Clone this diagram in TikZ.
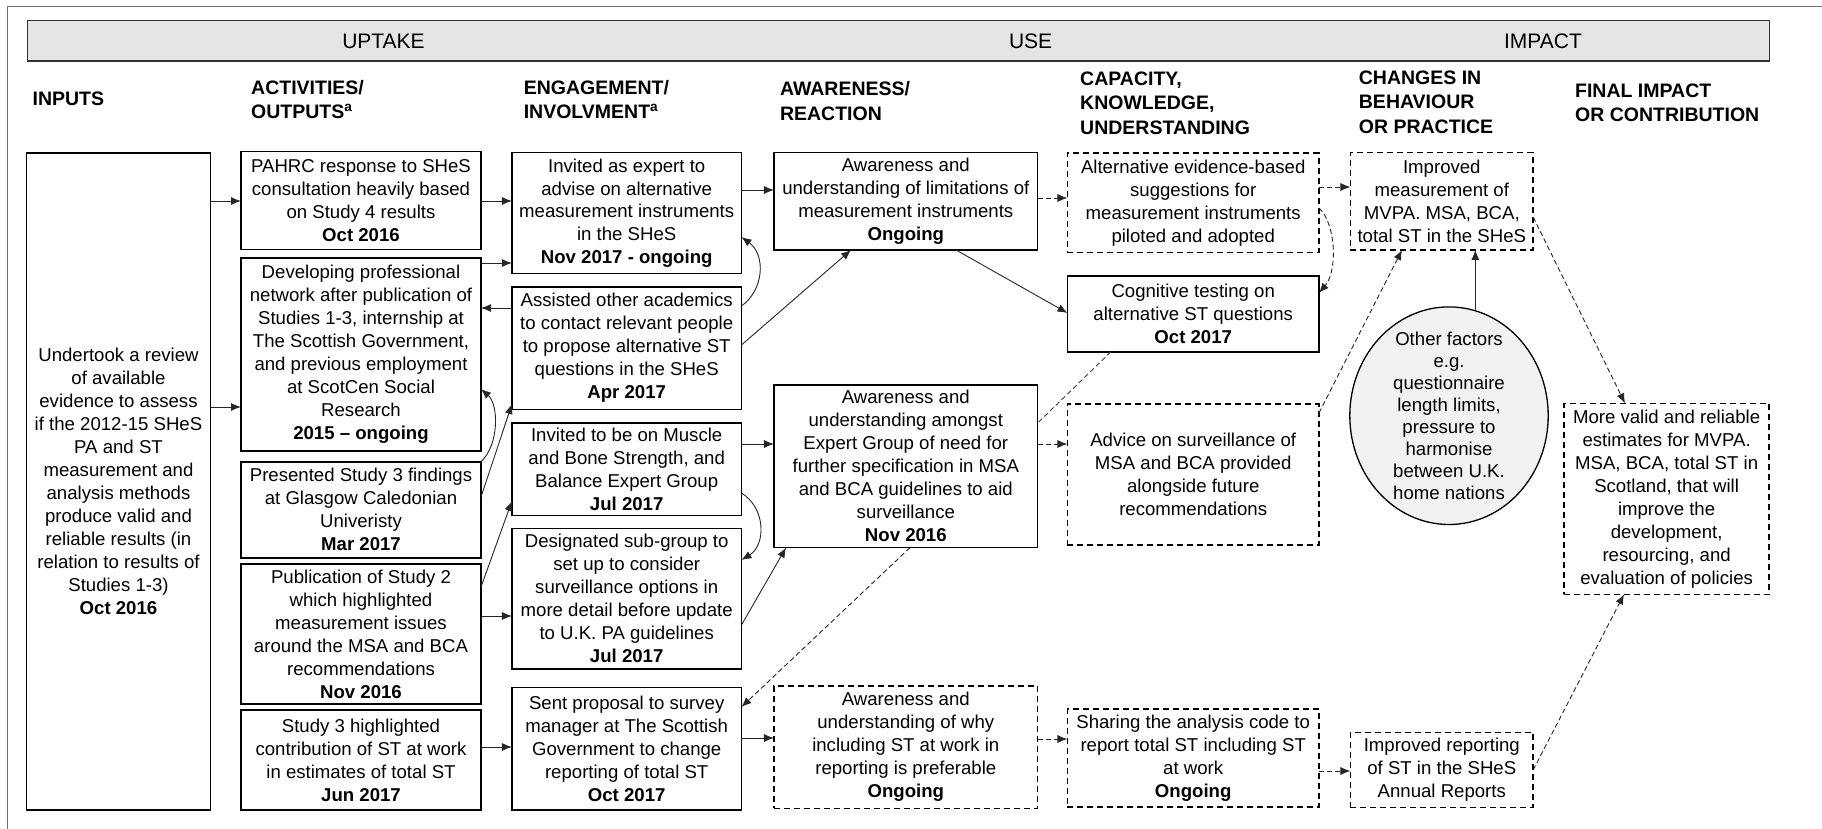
\documentclass[tikz,border=0pt]{standalone}
\usepackage{fontspec}
\setmainfont{Liberation Sans}
\usetikzlibrary{arrows.meta,shapes.geometric}

\newcommand{\bodytext}{\fontsize{18.6pt}{23pt}\selectfont}
\newcommand{\headtext}{\fontsize{19.5pt}{24.5pt}\selectfont\bfseries}

\begin{document}
\begin{tikzpicture}[x=1pt,y=-1pt,
  box/.style={draw=black, line width=1.6pt, inner sep=0pt, outer sep=0pt, align=center, font=\bodytext},
  dbox/.style={box, dash pattern=on 6pt off 4pt},
  head/.style={anchor=west, align=left, inner sep=0pt, font=\headtext},
  band/.style={font=\fontsize{21pt}{25pt}\selectfont, inner sep=0pt},
  conn/.style={draw=black!85, line width=0.9pt, -{Latex[length=10pt,width=8pt]}},
  dconn/.style={conn, dash pattern=on 5pt off 3pt},
  dline/.style={draw=black!75, line width=0.9pt, dash pattern=on 5pt off 3pt},
]
\useasboundingbox (0,0) rectangle (1822,829);

% outer frame
\draw[black!55, line width=1pt] (7,840) -- (7,7) -- (1830,7);

% stage banner
\node[draw=black!80, line width=1.5pt, fill=gray!20, inner sep=0pt,
      minimum width=1741.6pt, minimum height=40.3pt] (banner) at (898.5,40.85) {};
\node[band] (up) at (383.5,41.7) {UPTAKE};
\node[band] (use) at (1030.6,41.7) {USE};
\node[band] (imp0) at (1543,41.7) {IMPACT};

% column headings
\node[head] (h1) at (32.4,99) {INPUTS};
\node[head] (h2) at (251,99.5) {ACTIVITIES/\\OUTPUTS\textsuperscript{a}};
\node[head] (h3) at (523.6,99.5) {ENGAGEMENT/\\INVOLVMENT\textsuperscript{a}};
\node[head] (h4) at (779.8,101) {AWARENESS/\\REACTION};
\node[head] (h5) at (1080,103) {CAPACITY,\\KNOWLEDGE,\\UNDERSTANDING};
\node[head] (h6) at (1358.7,102) {CHANGES IN\\BEHAVIOUR\\OR PRACTICE};
\node[head] (h7) at (1574.9,103) {FINAL IMPACT\\OR CONTRIBUTION};

% inputs
\node[box, minimum width=184pt, minimum height=657pt] (inp) at (118.5,481.3)
  {Undertook a review\\of available\\evidence to assess\\if the 2012-15 SHeS\\PA and ST\\measurement and\\analysis methods\\produce valid and\\reliable results (in\\relation to results of\\Studies 1-3)\\\textbf{Oct 2016}};

% activities / outputs
\node[box, minimum width=240pt, minimum height=97.6pt] (pahrc) at (361,200.5)
  {PAHRC response to SHeS\\consultation heavily based\\on Study 4 results\\\textbf{Oct 2016}};
\node[box, minimum width=240pt, minimum height=193pt] (dev) at (361,354.2)
  {Developing professional\\network after publication of\\Studies 1-3, internship at\\The Scottish Government,\\and previous employment\\at ScotCen Social\\Research\\\textbf{2015 – ongoing}};
\node[box, minimum width=240pt, minimum height=96pt] (pres) at (361,509.7)
  {Presented Study 3 findings\\at Glasgow Caledonian\\Univeristy\\\textbf{Mar 2017}};
\node[box, minimum width=240pt, minimum height=140.3pt] (pub) at (361,634)
  {Publication of Study 2\\which highlighted\\measurement issues\\around the MSA and BCA\\recommendations\\\textbf{Nov 2016}};
\node[box, minimum width=240pt, minimum height=100pt] (st3) at (361,760)
  {Study 3 highlighted\\contribution of ST at work\\in estimates of total ST\\\textbf{Jun 2017}};

% engagement / involvement
\node[box, minimum width=229.5pt, minimum height=120.6pt, font=\fontsize{18.6pt}{22.7pt}\selectfont] (inv) at (626.7,213)
  {Invited as expert to\\advise on alternative\\measurement instruments\\in the SHeS\\\textbf{Nov 2017 - ongoing}};
\node[box, minimum width=229.5pt, minimum height=122.6pt] (ass) at (626.7,348)
  {Assisted other academics\\to contact relevant people\\to propose alternative ST\\questions in the SHeS\\\textbf{Apr 2017}};
\node[box, minimum width=229.5pt, minimum height=92.6pt] (mus) at (626.7,469)
  {Invited to be on Muscle\\and Bone Strength, and\\Balance Expert Group\\\textbf{Jul 2017}};
\node[box, minimum width=229.5pt, minimum height=140.3pt] (des) at (626.7,598.8)
  {Designated sub-group to\\set up to consider\\surveillance options in\\more detail before update\\to U.K. PA guidelines\\\textbf{Jul 2017}};
\node[box, minimum width=229.5pt, minimum height=122.3pt] (sent) at (626.7,748.8)
  {Sent proposal to survey\\manager at The Scottish\\Government to change\\reporting of total ST\\\textbf{Oct 2017}};

% awareness / reaction
\node[box, minimum width=263.7pt, minimum height=97.3pt] (aw1) at (905.8,201.3)
  {Awareness and\\understanding of limitations of\\measurement instruments\\\textbf{Ongoing}};
\node[box, minimum width=263.7pt, minimum height=162.7pt] (aw2) at (905.8,466.3)
  {Awareness and\\understanding amongst\\Expert Group of need for\\further specification in MSA\\and BCA guidelines to aid\\surveillance\\\textbf{Nov 2016}};
\node[dbox, minimum width=263.7pt, minimum height=122.6pt] (aw3) at (905.8,747)
  {Awareness and\\understanding of why\\including ST at work in\\reporting is preferable\\\textbf{Ongoing}};

% capacity, knowledge, understanding
\node[dbox, minimum width=251.5pt, minimum height=99pt] (alt) at (1193.2,202.8)
  {Alternative evidence-based\\suggestions for\\measurement instruments\\piloted and adopted};
\node[box, minimum width=251.5pt, minimum height=76pt] (cog) at (1193.2,313.7)
  {Cognitive testing on\\alternative ST questions\\\textbf{Oct 2017}};
\node[dbox, minimum width=251.5pt, minimum height=141pt] (adv) at (1193.2,474.5)
  {Advice on surveillance of\\MSA and BCA provided\\alongside future\\recommendations};
\node[dbox, minimum width=251.5pt, minimum height=98.3pt] (sha) at (1193.2,758)
  {Sharing the analysis code to\\report total ST including ST\\at work\\\textbf{Ongoing}};

% changes in behaviour or practice
\node[dbox, minimum width=182.7pt, minimum height=97.3pt] (imp) at (1441.8,201.3)
  {Improved\\measurement of\\MVPA. MSA, BCA,\\total ST in the SHeS};
\node[dbox, minimum width=182.7pt, minimum height=75pt] (rep) at (1441.8,769.8)
  {Improved reporting\\of ST in the SHeS\\Annual Reports};
\node[ellipse, draw=black, line width=1.3pt, fill=gray!10, inner sep=0pt,
      minimum width=198.4pt, minimum height=217.6pt] (ell) at (1449,415.7) {};
\node[align=center, inner sep=0pt, font=\fontsize{18.6pt}{21.9pt}\selectfont] (elltext) at (ell.center)
  {Other factors\\e.g.\\questionnaire\\length limits,\\pressure to\\harmonise\\between U.K.\\home nations};

% final impact
\node[dbox, minimum width=205.3pt, minimum height=191pt] (fin) at (1666.6,498.8)
  {More valid and reliable\\estimates for MVPA.\\MSA, BCA, total ST in\\Scotland, that will\\improve the\\development,\\resourcing, and\\evaluation of policies};

% connectors: inputs to activities
\draw[conn] (inp.east |- 0,201) -- (pahrc.west |- 0,201);
\draw[conn] (inp.east |- 0,407) -- (dev.west |- 0,407);

% activities to engagement
\draw[conn] (pahrc.east |- 0,201) -- (inv.west |- 0,201);
\draw[conn] (dev.east |- 0,263) -- (inv.west |- 0,263);
\draw[conn] (ass.west |- 0,308) -- (dev.east |- 0,308);
\draw[conn] (pres.north east) .. controls (499,445) and (499,405) .. (dev.east |- 0,389);
\draw[conn] (pres.east |- 0,497) -- (ass.west |- 0,404);
\draw[conn] (pub.east |- 0,587) -- (mus.west |- 0,501);
\draw[conn] (pub.east |- 0,616) -- (des.west |- 0,616);
\draw[conn] (st3.east |- 0,747) -- (sent.west |- 0,747);

% within engagement
\draw[conn] (ass.east |- 0,306) .. controls (764,290) and (766,255) .. (inv.east |- 0,237);
\draw[conn] (mus.east |- 0,493) .. controls (766,508) and (766,545) .. (des.east |- 0,560);

% engagement to awareness
\draw[conn] (inv.east |- 0,190) -- (aw1.west |- 0,190);
\draw[conn] (ass.east |- 0,345) -- (851,0 |- aw1.south);
\draw[conn] (mus.east |- 0,444) -- (aw2.west |- 0,444);
\draw[conn] (des.east |- 0,625) -- (786,0 |- aw2.south);
\draw[conn] (sent.east |- 0,738) -- (aw3.west |- 0,738);
\draw[dconn] (910,0 |- aw2.south) -- (sent.east |- 0,707);

% awareness to capacity
\draw[dconn] (aw1.east |- 0,198) -- (alt.west |- 0,198);
\draw[conn] (956,0 |- aw1.south) -- (cog.west |- 0,313);
\draw[dconn] (aw2.east |- 0,444) -- (adv.west |- 0,444);
\draw[dline] (1111,0 |- cog.south) -- (aw2.east |- 0,423);
\draw[dconn] (aw3.east |- 0,739) -- (sha.west |- 0,739);
\draw[dconn] (alt.east |- 0,208) .. controls (1337,225) and (1337,272) .. (cog.east |- 0,293);

% capacity to changes
\draw[dconn] (alt.east |- 0,187) -- (imp.west |- 0,187);
\draw[dconn] (adv.east |- 0,413) -- (1402,0 |- imp.south);
\draw[dconn] (sha.east |- 0,771) -- (rep.west |- 0,771);
\draw[conn] (ell.76) -- (ell.76 |- imp.south);

% changes to final impact
\draw[dconn] (imp.east |- 0,217) -- (1625,0 |- fin.north);
\draw[dconn] (rep.east |- 0,770) -- (1624,0 |- fin.south);

\end{tikzpicture}
\end{document}
